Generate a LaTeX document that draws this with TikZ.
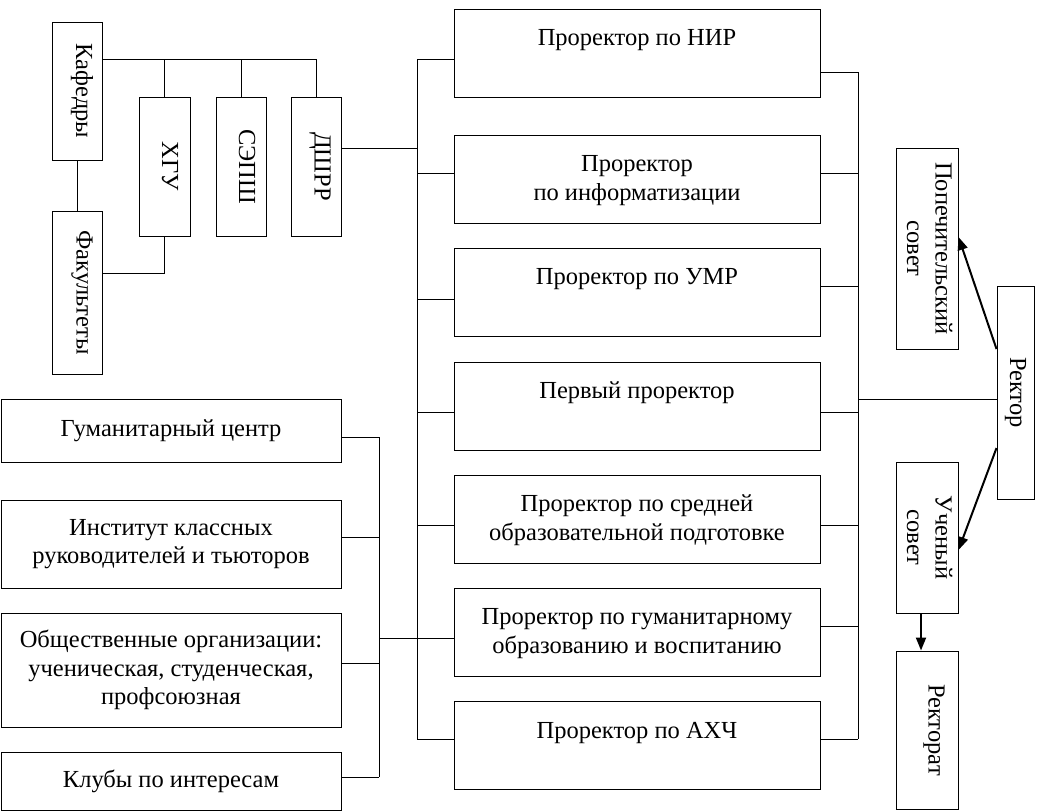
\documentclass[tikz,border=0pt]{standalone}
\usepackage{graphicx}
\usepackage{fontspec}
\setmainfont{Liberation Serif}
\usetikzlibrary{arrows.meta,calc}
\begin{document}
\begin{tikzpicture}[x=1pt,y=-1pt,
  box/.style={draw=black,line width=1pt,inner sep=0pt,align=center,
    font=\fontsize{24.5}{28.5}\selectfont},
  ln/.style={line width=1pt},
  arr/.style={line width=2pt,-{Triangle[length=13pt,width=10pt]}}]
\useasboundingbox (0,0) rectangle (1040,811);
\newcommand{\ptext}[1]{\parbox[c][88pt][t]{366pt}{\centering\vspace*{17pt}\strut #1}}
% left top group (vertical text)
\node[box,minimum width=50pt,minimum height=138pt] (kaf) at (77,91)
  {\hspace*{10pt}\rotatebox{-90}{Кафедры}};
\node[box,minimum width=50pt,minimum height=163pt] (fak) at (77,292.5)
  {\hspace*{10pt}\rotatebox{-90}{Факультеты}};
\node[box,minimum width=51pt,minimum height=139pt] (xgu) at (164.5,166.5)
  {\hspace*{11pt}\rotatebox{-90}{ХГУ}};
\node[box,minimum width=50pt,minimum height=139pt] (sepsh) at (241,166.5)
  {\hspace*{12pt}\rotatebox{-90}{СЭПШ}};
\node[box,minimum width=50pt,minimum height=139pt] (dshrr) at (316,166.5)
  {\hspace*{8pt}\rotatebox{-90}{ДШРР}};
% prorectors
\node[box,minimum width=366pt,minimum height=88pt] (p1) at (637,53) {\ptext{Проректор по НИР}};
\node[box,minimum width=366pt,minimum height=88pt] (p2) at (637,179) {\ptext{Проректор\\по информатизации}};
\node[box,minimum width=366pt,minimum height=88pt] (p3) at (637,292) {\ptext{Проректор по УМР}};
\node[box,minimum width=366pt,minimum height=88pt] (p4) at (637,406) {\ptext{Первый проректор}};
\node[box,minimum width=366pt,minimum height=88pt] (p5) at (637,519) {\ptext{Проректор по средней\\образовательной подготовке}};
\node[box,minimum width=366pt,minimum height=88pt] (p6) at (637,632) {\ptext{Проректор по гуманитарному\\образованию и воспитанию}};
\node[box,minimum width=366pt,minimum height=88pt] (p7) at (637,745.5) {\ptext{Проректор по АХЧ}};
% left bottom group
\node[box,minimum width=340pt,minimum height=63pt] (gum) at (171,430.5) {Гуманитарный центр};
\node[box,minimum width=340pt,minimum height=88pt] (inst) at (171,544) {Институт классных\\руководителей и тьюторов};
\node[box,minimum width=340pt,minimum height=114pt] (obsh) at (171,670) {Общественные организации:\\ученическая, студенческая,\\профсоюзная};
\node[box,minimum width=340pt,minimum height=58pt] (klub) at (171,781) {Клубы по интересам};
% right group
\node[box,minimum width=62pt,minimum height=201pt] (pop) at (927,248.5)
  {\rotatebox{-90}{\begin{tabular}{@{}c@{}}Попечительский\\совет\end{tabular}}};
\node[box,minimum width=37pt,minimum height=213pt] (rek) at (1015.5,392.5)
  {\rotatebox{-90}{Ректор}};
\node[box,minimum width=62pt,minimum height=151pt] (uch) at (927,537.5)
  {\rotatebox{-90}{\begin{tabular}{@{}c@{}}Ученый\\совет\end{tabular}}};
\node[box,minimum width=62pt,minimum height=158pt] (rekt) at (927,730)
  {\hspace*{14pt}\rotatebox{-90}{Ректорат}};
% connectors, top-left group
\coordinate (tb) at (316,59);
\coordinate (fk) at (165,273);
\coordinate (dj) at (417,148);
\draw[ln] (kaf) -- (fak);
\draw[ln] (kaf.east |- tb) -- (tb) -- (dshrr.north);
\draw[ln] (xgu.north) -- (xgu.north |- tb);
\draw[ln] (sepsh.north) -- (sepsh.north |- tb);
\draw[ln] (fak.east |- fk) -| (xgu.south);
\draw[ln] (dshrr.east |- dj) -- (dj);
% main left bus
\coordinate (mbT) at (417,59);
\coordinate (mbB) at (417,739);
\draw[ln] (mbT) -- (mbB);
\foreach \n/\yl in {1/59,2/173,3/299,4/412,5/525,6/638,7/739}
  \draw[ln] (mbT |- 0,\yl) -- (p\n.west |- 0,\yl);
% right bus
\coordinate (rbT) at (858,72);
\coordinate (rbB) at (858,739);
\draw[ln] (rbT) -- (rbB);
\foreach \n/\yr in {1/72,2/173,3/286,4/412,5/525,6/626,7/739}
  \draw[ln] (p\n.east |- 0,\yr) -- (rbT |- 0,\yr);
\coordinate (rj) at (858,399);
\draw[ln] (rj) -- (rek.west |- rj);
% left bottom bus
\coordinate (lbT) at (379,437);
\coordinate (lbB) at (379,777);
\coordinate (lbJ) at (379,638);
\draw[ln] (lbT) -- (lbB);
\draw[ln] (gum.east |- lbT) -- (lbT);
\draw[ln] (inst.east |- 0,537) -- (lbT |- 0,537);
\draw[ln] (obsh.east |- 0,663) -- (lbT |- 0,663);
\draw[ln] (klub.east |- lbB) -- (lbB);
\draw[ln] (lbJ) -- (mbT |- lbJ);
% arrows
\draw[arr] (rek.west |- 0,349) -- (pop.east |- 0,237);
\draw[arr] (rek.west |- 0,448) -- (uch.east |- 0,550);
\draw[arr] (uch.south -| 921,0) -- (rekt.north -| 921,0);
\end{tikzpicture}
\end{document}
